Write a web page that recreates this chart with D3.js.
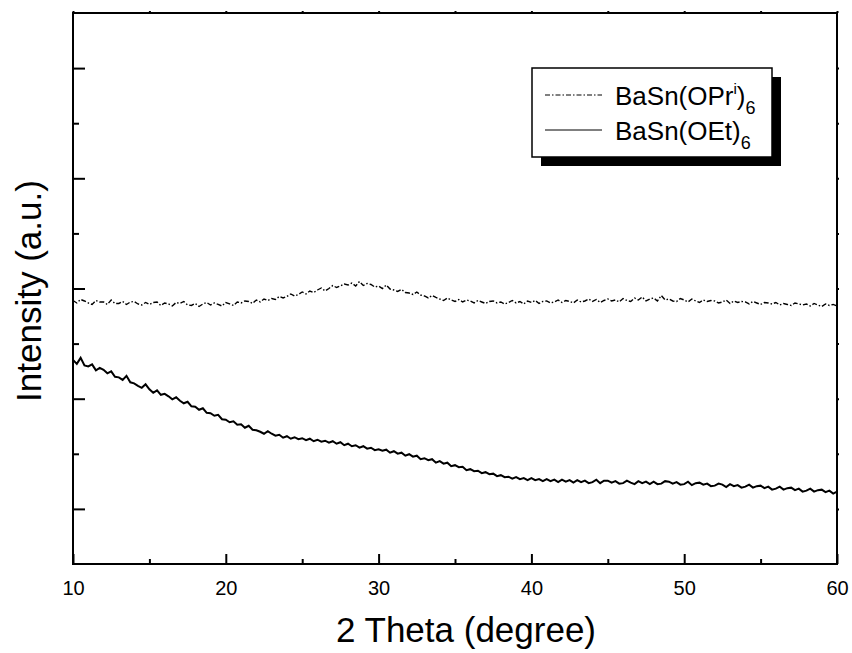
<!DOCTYPE html>
<html>
<head>
<meta charset="utf-8">
<script src="https://cdn.jsdelivr.net/npm/d3@7"></script>
<style>
body{margin:0;background:#fff;}
text{font-family:Arial,"Liberation Sans",sans-serif;fill:#000;}
</style>
</head>
<body>
<script>
//scan angles (2 theta, 0.25 degree step)
var twoTheta = d3.range(10, 60.0001, 0.25);

//x axis ticks
var xTicks = [10, 20, 30, 40, 50, 60];
var xMinorTicks = [15, 25, 35, 45, 55];

//y axis (arbitrary units, no labels)
var yDomain = [0, 1104];
var yTicks = [110.4, 331.2, 552, 772.8, 993.6];
var yMinorTicks = [220.8, 441.6, 662.4, 883.2];

//BaSn(OPr^i)6 intensity
var opri = [
	528, 523, 530, 527,  523, 520, 528, 525,  525, 520, 529, 522,  522, 526, 520, 525,
	526, 521, 519, 524,  520, 524, 525, 518,  523, 521, 517, 524,  522, 526, 519, 518,
	522, 516, 521, 524,  519, 523, 520, 517,  524, 521, 518, 525,  523, 527, 526, 522,
	529, 525, 531, 528,  532, 530, 536, 533,  536, 541, 537, 540,  545, 541, 547, 544,
	549, 553, 547, 552,  558, 554, 557, 561,  559, 563, 557, 566,  558, 562, 560, 555,
	557, 552, 559, 551,  549, 546, 550, 544,  543, 540, 545, 539,  537, 533, 538, 534,
	531, 528, 533, 529,  526, 530, 525, 529,  527, 523, 528, 525,  522, 526, 527, 523,
	525, 521, 524, 528,  523, 526, 521, 527,  524, 528, 522, 526,  527, 523, 525, 529,
	524, 528, 526, 523,  529, 525, 527, 531,  526, 530, 524, 528,  531, 527, 529, 525,
	532, 528, 526, 533,  529, 535, 527, 531,  533, 527, 538, 529,  531, 527, 526, 532,
	529, 525, 531, 527,  524, 529, 526, 528,  527, 523, 525, 529,  522, 527, 524, 526,
	525, 521, 526, 523,  520, 524, 523, 521,  524, 519, 522, 520,  518, 523, 521, 519,
	521, 517, 522, 519,  516, 521, 518, 520,  517
];

//BaSn(OEt)6 intensity
var oet = [
	409, 401, 413, 398,  396, 400, 388, 393,  389, 382, 386, 375,  374, 369, 377, 364,
	362, 357, 353, 360,  350, 343, 348, 339,  341, 336, 330, 334,  327, 322, 325, 316,
	315, 309, 312, 303,  302, 297, 299, 290,  289, 284, 286, 279,  280, 273, 277, 269,
	268, 265, 261, 266,  261, 257, 259, 253,  256, 251, 254, 250,  252, 248, 251, 246,
	249, 245, 247, 243,  246, 241, 244, 238,  241, 236, 238, 233,  236, 231, 233, 228,
	230, 227, 229, 223,  226, 221, 223, 217,  220, 215, 217, 210,  212, 208, 210, 203,
	206, 201, 203, 196,  198, 194, 195, 188,  190, 186, 187, 182,  184, 180, 181, 176,
	178, 174, 175, 171,  174, 170, 172, 168,  172, 168, 170, 166,  170, 166, 169, 164,
	169, 165, 168, 163,  168, 164, 167, 162,  164, 169, 162, 167,  167, 163, 166, 161,
	162, 167, 163, 160,  166, 162, 165, 160,  165, 160, 161, 166,  165, 161, 164, 159,
	160, 165, 158, 162,  163, 159, 161, 156,  157, 161, 159, 154,  160, 156, 158, 153,
	155, 159, 153, 156,  157, 152, 155, 149,  151, 155, 149, 152,  153, 148, 151, 145,
	147, 151, 145, 148,  149, 144, 147, 141,  145
];

window.onload = setChart();

function setChart(){
	//frame dimensions
	var width = 852,
		height = 653,
		left = 73,
		right = 837,
		top = 13,
		bottom = 564;

	var svg = d3.select("body")
		.append("svg")
		.attr("width", width)
		.attr("height", height);

	//scales
	var x = d3.scaleLinear()
		.domain([10, 60])
		.range([left, right]);

	var y = d3.scaleLinear()
		.domain(yDomain)
		.range([bottom, top]);

	//bottom axis, ticks pointing in
	var xAxis = svg.append("g")
		.attr("class", "axis")
		.attr("transform", "translate(0," + bottom + ")")
		.call(d3.axisBottom(x).tickValues(xTicks).tickSize(-10).tickFormat(d3.format("d")));
	xAxis.selectAll("text")
		.attr("y", 31)
		.attr("dy", null)
		.style("font-size", "20px");

	var xMinor = svg.append("g")
		.attr("transform", "translate(0," + bottom + ")")
		.call(d3.axisBottom(x).tickValues(xMinorTicks).tickSize(-5).tickFormat(""));

	//top axis, tiny ticks
	var xTop = svg.append("g")
		.attr("transform", "translate(0," + top + ")")
		.call(d3.axisTop(x).tickValues(xTicks.concat(xMinorTicks)).tickSize(2).tickFormat(""));

	//left axis
	var yAxis = svg.append("g")
		.attr("transform", "translate(" + left + ",0)")
		.call(d3.axisLeft(y).tickValues(yTicks).tickSize(-12).tickFormat(""));

	var yMinor = svg.append("g")
		.attr("transform", "translate(" + left + ",0)")
		.call(d3.axisLeft(y).tickValues(yMinorTicks).tickSize(-6).tickFormat(""));

	//right axis, tiny ticks
	var yRight = svg.append("g")
		.attr("transform", "translate(" + right + ",0)")
		.call(d3.axisRight(y).tickValues(yTicks.concat(yMinorTicks)).tickSize(2).tickFormat(""));

	svg.selectAll(".domain").remove();
	svg.selectAll(".tick line")
		.attr("stroke", "#000")
		.attr("stroke-width", 2);

	//plot frame
	svg.append("rect")
		.attr("x", left)
		.attr("y", top)
		.attr("width", right - left)
		.attr("height", bottom - top)
		.attr("fill", "none")
		.attr("stroke", "#000")
		.attr("stroke-width", 2);

	//curves
	var line = d3.line()
		.x(function(d, i){ return x(twoTheta[i]); })
		.y(function(d){ return y(d); });

	svg.append("path")
		.datum(opri)
		.attr("class", "opri")
		.attr("d", line)
		.attr("fill", "none")
		.attr("stroke", "#000")
		.attr("stroke-width", 1.4)
		.attr("stroke-dasharray", "5,2,1.5,2");

	svg.append("path")
		.datum(oet)
		.attr("class", "oet")
		.attr("d", line)
		.attr("fill", "none")
		.attr("stroke", "#000")
		.attr("stroke-width", 2);

	//axis titles
	svg.append("text")
		.attr("x", 466)
		.attr("y", 642)
		.attr("text-anchor", "middle")
		.style("font-size", "35px")
		.text("2 Theta (degree)");

	svg.append("text")
		.attr("transform", "translate(41,291) rotate(-90)")
		.attr("text-anchor", "middle")
		.style("font-size", "35px")
		.text("Intensity (a.u.)");

	//legend with drop shadow
	var legend = svg.append("g").attr("class", "legend");
	legend.append("rect")
		.attr("x", 541)
		.attr("y", 77)
		.attr("width", 240)
		.attr("height", 89)
		.attr("fill", "#000");
	legend.append("rect")
		.attr("x", 532)
		.attr("y", 68)
		.attr("width", 240)
		.attr("height", 89)
		.attr("fill", "#fff")
		.attr("stroke", "#000")
		.attr("stroke-width", 1.5);

	legend.append("line")
		.attr("x1", 545).attr("x2", 602)
		.attr("y1", 95).attr("y2", 95)
		.attr("stroke", "#000")
		.attr("stroke-width", 1)
		.attr("stroke-dasharray", "5,2,1.5,2");
	legend.append("line")
		.attr("x1", 545).attr("x2", 602)
		.attr("y1", 130).attr("y2", 130)
		.attr("stroke", "#000")
		.attr("stroke-width", 1);

	var t1 = legend.append("text")
		.attr("x", 615)
		.attr("y", 105)
		.style("font-size", "26px");
	t1.append("tspan").text("BaSn(OPr");
	t1.append("tspan").attr("dy", -11).style("font-size", "15px").text("i");
	t1.append("tspan").attr("dy", 11).text(")");
	t1.append("tspan").attr("dy", 9).style("font-size", "18px").text("6");

	var t2 = legend.append("text")
		.attr("x", 615)
		.attr("y", 140)
		.style("font-size", "26px");
	t2.append("tspan").text("BaSn(OEt)");
	t2.append("tspan").attr("dy", 9).style("font-size", "18px").text("6");
};
</script>
</body>
</html>
